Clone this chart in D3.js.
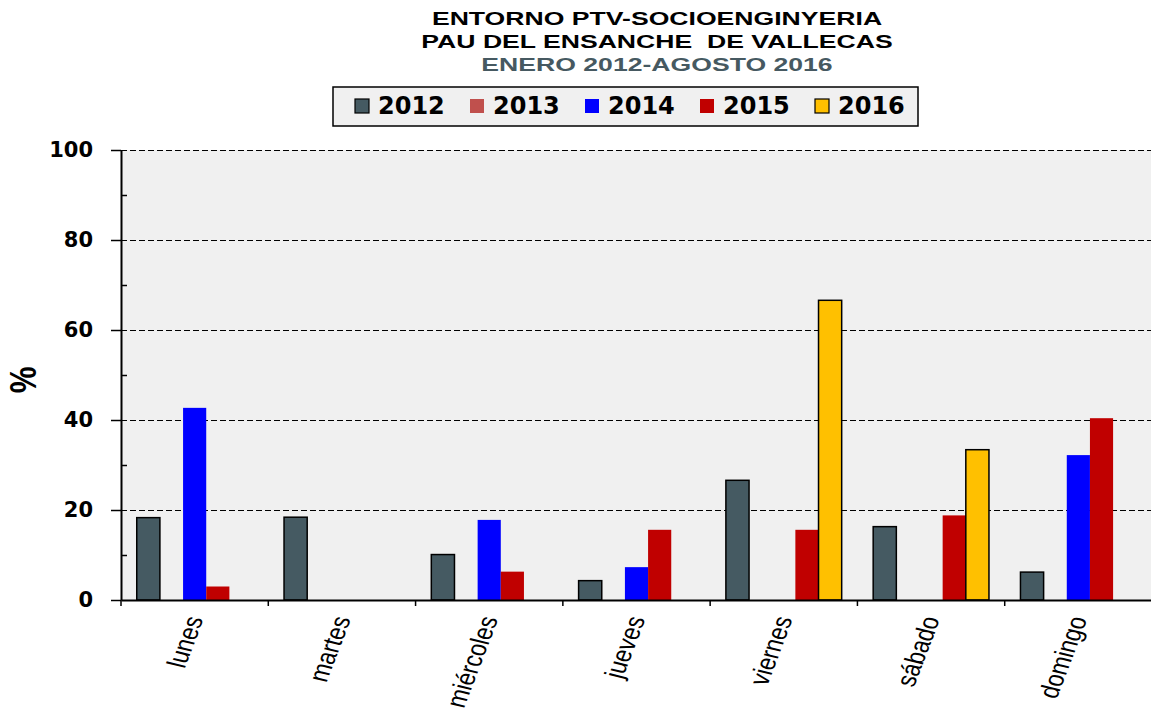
<!DOCTYPE html>
<html>
<head>
<meta charset="utf-8">
<script src="https://cdn.jsdelivr.net/npm/d3@7"></script>
<style>
  body { margin: 0; background: #fff; }
  svg { display: block; }
</style>
</head>
<body>
<div id="chart"></div>
<script>
// chart data
const days = ["lunes", "martes", "miércoles", "jueves", "viernes", "sábado", "domingo"];
const years = ["2012", "2013", "2014", "2015", "2016"];
const v2012 = [18.3, 18.4, 10.1, 4.3, 26.6, 16.3, 6.2];
const v2013 = [0, 0, 0, 0, 0, 0, 0];
const v2014 = [42.7, 0, 17.8, 7.3, 0, 0, 32.2];
const v2015 = [3.0, 0, 6.3, 15.6, 15.6, 18.8, 40.4];
const v2016 = [0, 0, 0, 0, 66.6, 33.4, 0];
const yTicks = [0, 20, 40, 60, 80, 100];
const yMinor = [10, 30, 50, 70, 90];
const titles = ["ENTORNO PTV-SOCIOENGINYERIA", "PAU DEL ENSANCHE  DE VALLECAS", "ENERO 2012-AGOSTO 2016"];

const series = { "2012": v2012, "2013": v2013, "2014": v2014, "2015": v2015, "2016": v2016 };
const colors = { "2012": "#455A62", "2013": "#C0504D", "2014": "#0000FF", "2015": "#C00000", "2016": "#FFC000" };
const outlined = { "2012": true, "2016": true };

const width = 1151, height = 713;
const plotL = 121, plotR = 1152, plotT = 150, plotB = 600;
const boldFont = "'DejaVu Sans', sans-serif";
const arialFont = "'Liberation Sans', Arial, sans-serif";
const stretch = 1.25; // the original picture is stretched sideways

const svg = d3.select("#chart").append("svg")
    .attr("width", width)
    .attr("height", height);

// titles
svg.selectAll("text.title")
    .data(titles)
    .enter().append("text")
    .attr("class", "title")
    .attr("transform", (d, i) => `translate(657,${25 + i * 23}) scale(1.4,1)`)
    .attr("text-anchor", "middle")
    .style("white-space", "pre")
    .style("font-family", arialFont)
    .style("font-weight", "bold")
    .style("font-size", "19px")
    .attr("fill", (d, i) => i === 2 ? "#465961" : "#000")
    .text(d => d);

// legend
const legend = svg.append("g");
legend.append("rect")
    .attr("x", 333).attr("y", 87)
    .attr("width", 585).attr("height", 39)
    .attr("fill", "#F0F0F0")
    .attr("stroke", "#000")
    .attr("stroke-width", 1.5);

const lx = d3.scaleBand().domain(years).range([345, 920]);
const items = legend.selectAll("g.item").data(years).enter().append("g")
    .attr("transform", d => `translate(${lx(d)},0)`);
items.append("rect")
    .attr("x", 10).attr("y", 99)
    .attr("width", 14).attr("height", 14)
    .attr("fill", d => colors[d])
    .attr("stroke", d => outlined[d] ? "#000" : "none")
    .attr("stroke-width", 1.2);
items.append("text")
    .attr("x", 33).attr("y", 114)
    .style("font-family", boldFont)
    .style("font-weight", "bold")
    .style("font-size", "24px")
    .text(d => d);

// scales
const x0 = d3.scaleBand().domain(days).range([plotL, plotR]);
const x1 = d3.scaleBand().domain(years).range([0, x0.bandwidth()]).paddingOuter(0.68);
const y = d3.scaleLinear().domain([0, 100]).range([plotB, plotT]);

// plot background
svg.append("rect")
    .attr("x", plotL).attr("y", plotT)
    .attr("width", plotR - plotL).attr("height", plotB - plotT)
    .attr("fill", "#F0F0F0");

// gridlines
svg.append("g")
    .selectAll("line")
    .data(yTicks.filter(d => d > 0))
    .enter().append("line")
    .attr("x1", plotL).attr("x2", plotR)
    .attr("y1", d => y(d)).attr("y2", d => y(d))
    .attr("stroke", "#000")
    .attr("stroke-width", 1)
    .attr("shape-rendering", "crispEdges")
    .attr("stroke-dasharray", "6,3");

// bars
const groups = svg.append("g").selectAll("g")
    .data(days)
    .enter().append("g")
    .attr("transform", d => `translate(${x0(d)},0)`);

groups.selectAll("rect")
    .data((d, i) => years.map(yr => ({ year: yr, value: series[yr][i] })).filter(e => e.value > 0))
    .enter().append("rect")
    .attr("x", d => x1(d.year))
    .attr("y", d => y(d.value))
    .attr("width", x1.bandwidth())
    .attr("height", d => y(0) - y(d.value))
    .attr("fill", d => colors[d.year])
    .attr("stroke", d => outlined[d.year] ? "#000" : "none")
    .attr("stroke-width", 1.5);

// y axis
const yAxis = svg.append("g")
    .attr("transform", `translate(${plotL},0)`)
    .call(d3.axisLeft(y).tickValues(yTicks).tickSize(10).tickPadding(18).tickSizeOuter(0));
yAxis.select(".domain").attr("stroke", "#000").attr("stroke-width", 2);
yAxis.selectAll(".tick line").attr("stroke-width", 1.5);
yAxis.selectAll("text")
    .style("font-family", boldFont)
    .style("font-weight", "bold")
    .style("font-size", "21px")
    .attr("fill", "#000");

svg.append("g")
    .attr("transform", `translate(${plotL},0)`)
    .call(d3.axisRight(y).tickValues(yMinor).tickSize(6).tickFormat(""))
    .call(g => g.select(".domain").remove())
    .selectAll(".tick line").attr("stroke-width", 1.5);

// x axis
const xAxis = svg.append("g")
    .attr("transform", `translate(0,${plotB})`)
    .call(d3.axisBottom(x0).tickSize(0).tickSizeOuter(0));
xAxis.select(".domain").attr("stroke", "#000").attr("stroke-width", 2);
xAxis.selectAll(".tick text")
    .attr("y", 0)
    .attr("dy", 0)
    .attr("text-anchor", "end")
    .attr("transform", `translate(9,19) scale(${stretch},1) rotate(-73)`)
    .style("font-family", arialFont)
    .style("font-size", "22px")
    .attr("fill", "#000");

svg.append("g")
    .selectAll("line")
    .data(days)
    .enter().append("line")
    .attr("x1", d => x0(d)).attr("x2", d => x0(d))
    .attr("y1", plotB).attr("y2", plotB + 6)
    .attr("stroke", "#000")
    .attr("stroke-width", 1.5);

// y axis title
svg.append("text")
    .attr("transform", `translate(36,380) scale(${stretch},1) rotate(-90)`)
    .attr("text-anchor", "middle")
    .style("font-family", arialFont)
    .style("font-weight", "bold")
    .style("font-size", "30px")
    .text("%");
</script>
</body>
</html>
